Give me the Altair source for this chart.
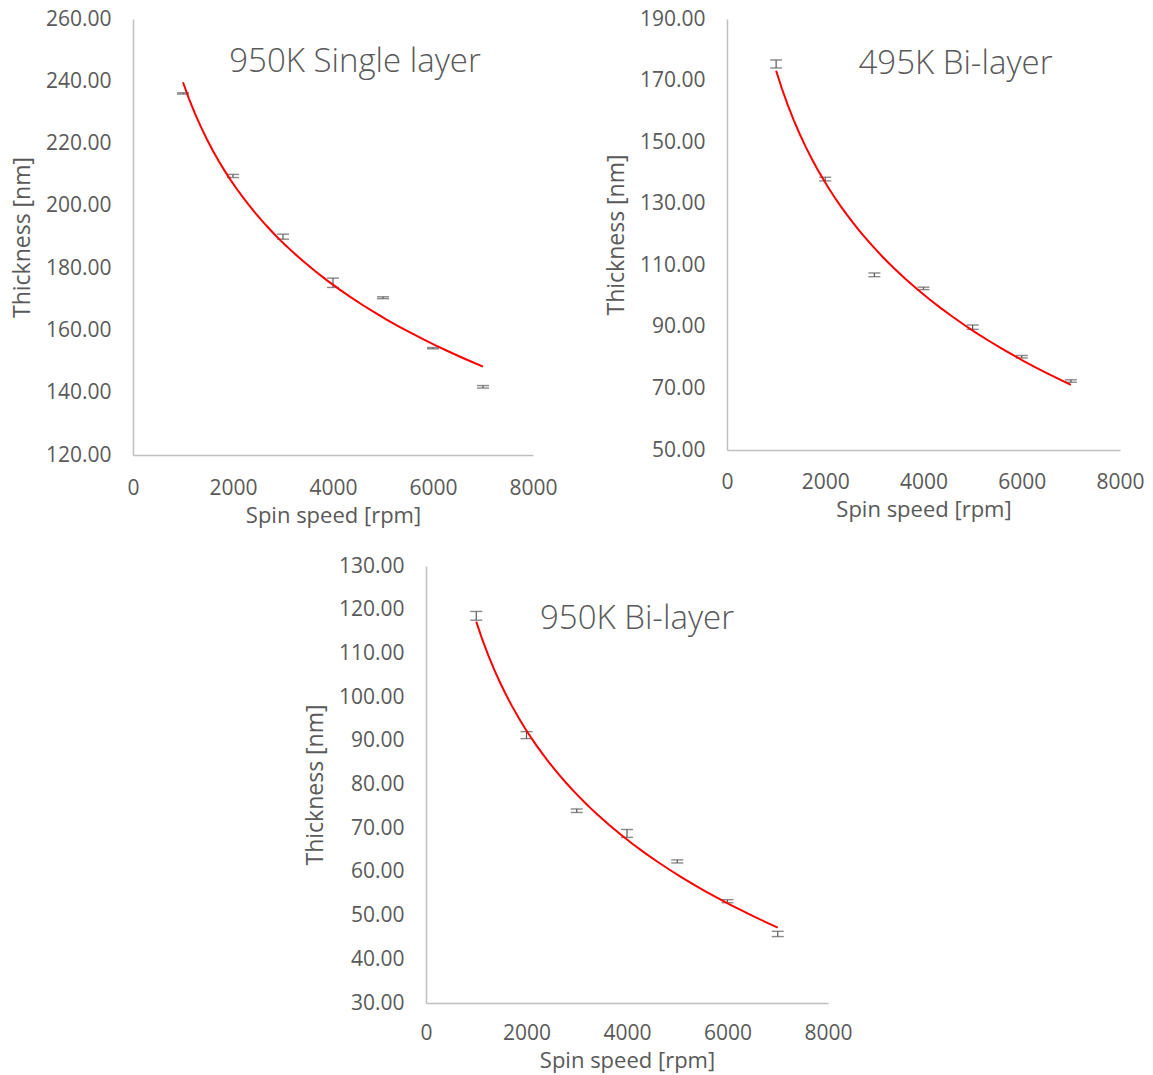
import altair as alt
import pandas as pd

# ---- data ----
rpm = [1000, 2000, 3000, 4000, 5000, 6000, 7000]

single_950 = [236.1, 209.6, 190.1, 175.3, 170.5, 154.3, 141.9]
single_950_err = [0.2, 0.5, 0.8, 1.5, 0.3, 0.2, 0.4]

bi_495 = [175.4, 138.0, 106.9, 102.5, 89.9, 80.3, 72.4]
bi_495_err = [1.3, 0.6, 0.6, 0.4, 0.7, 0.4, 0.4]

bi_950 = [118.6, 91.3, 74.0, 68.8, 62.4, 53.3, 45.8]
bi_950_err = [1.0, 0.8, 0.4, 0.9, 0.35, 0.35, 0.6]

x_ticks = [0, 2000, 4000, 6000, 8000]
y_ticks_single_950 = [120, 140, 160, 180, 200, 220, 240, 260]
y_ticks_bi_495 = [50, 70, 90, 110, 130, 150, 170, 190]
y_ticks_bi_950 = [30, 40, 50, 60, 70, 80, 90, 100, 110, 120, 130]

titles = ["950K Single layer", "495K Bi-layer", "950K Bi-layer"]
x_title = "Spin speed [rpm]"
y_title = "Thickness [nm]"

GREY = "#595959"
AXIS = "#BFBFBF"
RED = "#FF0000"
FONT = "Open Sans"


def panel(title, vals, errs, yticks, w, h, tdx, tdy, xlabpad):
    df = pd.DataFrame({"rpm": rpm, "thk": vals, "err": errs})
    xenc = alt.X(
        "rpm:Q",
        scale=alt.Scale(domain=[x_ticks[0], x_ticks[-1]], nice=False),
        axis=alt.Axis(values=x_ticks, title=x_title, format="d",
                      labelPadding=xlabpad, titlePadding=7, titleFontSize=22),
    )

    def yenc(field):
        return alt.Y(
            field,
            scale=alt.Scale(domain=[yticks[0], yticks[-1]], nice=False, zero=False),
            axis=alt.Axis(values=yticks, title=y_title, format=".2f"),
        )

    base = alt.Chart(df).transform_calculate(
        lo="datum.thk - datum.err", hi="datum.thk + datum.err"
    )
    rule = base.mark_rule(color=GREY, strokeWidth=1.2).encode(
        x=xenc, y=yenc("lo:Q"), y2="hi:Q"
    )
    tlo = base.mark_tick(orient="horizontal", size=12, thickness=1.4, color=GREY).encode(
        x=xenc, y=yenc("lo:Q")
    )
    thi = base.mark_tick(orient="horizontal", size=12, thickness=1.4, color=GREY).encode(
        x=xenc, y=yenc("hi:Q")
    )
    fit = (
        alt.Chart(df)
        .transform_regression("rpm", "thk", method="log", extent=[rpm[0], rpm[-1]])
        .mark_line(color=RED, strokeWidth=2)
        .encode(x=xenc, y=yenc("thk:Q"))
    )
    return alt.layer(rule, tlo, thi, fit).properties(
        width=w,
        height=h,
        title=alt.TitleParams(
            text=title,
            font=FONT,
            fontSize=33,
            fontWeight=300,
            color=GREY,
            anchor="middle",
            baseline="alphabetic",
            offset=0,
            dx=tdx,
            dy=tdy,
        ),
    )


c1 = panel(titles[0], single_950, single_950_err, y_ticks_single_950, 400, 436, 22, 97, 22)
c2 = panel(titles[1], bi_495, bi_495_err, y_ticks_bi_495, 393, 431, 32, 99, 21)
c3 = panel(titles[2], bi_950, bi_950_err, y_ticks_bi_950, 402, 437, 10, 107, 19)

spacer = (
    alt.Chart(pd.DataFrame({"a": [0]}))
    .mark_point(opacity=0, size=1)
    .encode(x=alt.value(50), y=alt.value(5))
    .properties(width=100, height=10)
)

top = alt.hconcat(c1, c2, spacing=47)
bottom = alt.hconcat(spacer, c3, spacing=71)
chart = (
    alt.vconcat(top, bottom, spacing=29)
    .properties(padding={"left": 11, "top": 8, "right": 5, "bottom": 2})
    .configure_view(stroke=None)
    .configure_axis(
        grid=False,
        ticks=False,
        tickSize=0,
        labelFlush=False,
        domainColor=AXIS,
        domainWidth=1.5,
        labelFont=FONT,
        labelFontSize=21,
        labelColor=GREY,
        titleFont=FONT,
        titleFontSize=23,
        titleFontWeight="normal",
        titleColor=GREY,
    )
    .configure_axisY(labelPadding=22, titlePadding=11)
)

chart.save("out.html", embed_options={"renderer": "svg", "actions": False})
